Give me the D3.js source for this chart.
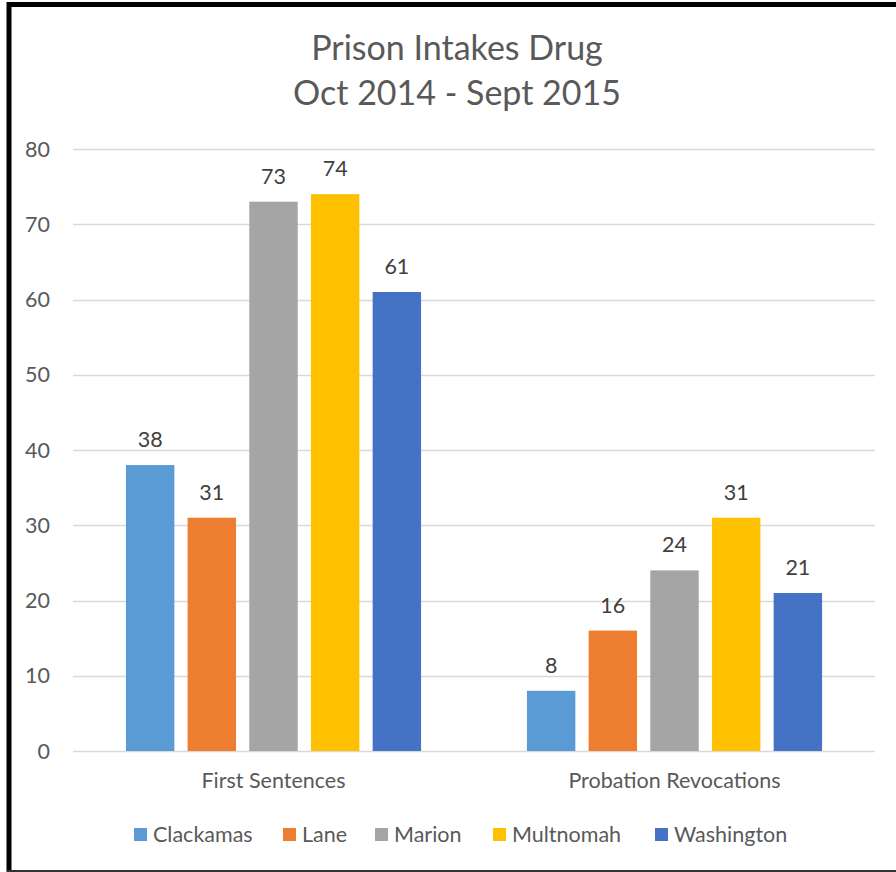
<!DOCTYPE html>
<html>
<head>
<meta charset="utf-8">
<script src="https://cdn.jsdelivr.net/npm/d3@7"></script>
<style>
  html, body { margin: 0; padding: 0; background: #fff; }
  svg { display: block; }
</style>
</head>
<body>
<div id="chart"></div>
<script>
const categories = ['First Sentences', 'Probation Revocations'];
const seriesNames = ['Clackamas', 'Lane', 'Marion', 'Multnomah', 'Washington'];
const seriesColors = ['#5b9bd5', '#ed7d31', '#a5a5a5', '#ffc000', '#4472c4'];
const clackamas = [38, 8];
const lane = [31, 16];
const marion = [73, 24];
const multnomah = [74, 31];
const washington = [61, 21];
const yTicks = [0, 10, 20, 30, 40, 50, 60, 70, 80];
const titleLines = ['Prison Intakes Drug', 'Oct 2014 - Sept 2015'];

const seriesValues = [clackamas, lane, marion, multnomah, washington];

const width = 896;
const height = 872;
const font = 'Lato, "Open Sans", sans-serif';
const labelSize = 21.5;

const plot = { left: 73, right: 875, top: 149, bottom: 751 };

const svg = d3.select('#chart').append('svg')
  .attr('width', width)
  .attr('height', height);

// Frame.
svg.append('rect').attr('x', 0).attr('y', 0).attr('width', width).attr('height', height).attr('fill', '#fff');
svg.append('line').attr('x1', 9).attr('x2', 9).attr('y1', 2).attr('y2', 872)
  .attr('stroke', '#000').attr('stroke-width', 5);
svg.append('line').attr('x1', 7).attr('x2', 896).attr('y1', 4.5).attr('y2', 4.5)
  .attr('stroke', '#000').attr('stroke-width', 5);
svg.append('line').attr('x1', 7).attr('x2', 896).attr('y1', 871).attr('y2', 871)
  .attr('stroke', '#333').attr('stroke-width', 2);

// Title.
titleLines.forEach((t, i) => {
  svg.append('text')
    .attr('x', 457).attr('y', 60 + i * 45)
    .attr('text-anchor', 'middle')
    .attr('font-family', font).attr('font-size', 34)
    .attr('fill', '#595959')
    .text(t);
});

// Scales.
const y = d3.scaleLinear().domain([0, 80]).range([plot.bottom, plot.top]);
const x0 = d3.scaleBand().domain(categories).range([plot.left, plot.right]).padding(0);
const groupPad = x0.bandwidth() * 0.132;
const x1 = d3.scaleBand().domain(seriesNames)
  .range([groupPad, x0.bandwidth() - groupPad])
  .paddingInner(0.215).paddingOuter(0);

// Gridlines.
svg.append('g')
  .selectAll('line')
  .data(yTicks)
  .join('line')
  .attr('x1', plot.left).attr('x2', plot.right)
  .attr('y1', d => Math.round(y(d)) + 0.5).attr('y2', d => Math.round(y(d)) + 0.5)
  .attr('stroke', '#d9d9d9').attr('stroke-width', 1.5);

// Y axis labels.
svg.append('g')
  .selectAll('text')
  .data(yTicks)
  .join('text')
  .attr('x', 50)
  .attr('y', d => y(d) + 7.5)
  .attr('text-anchor', 'end')
  .attr('font-family', font).attr('font-size', labelSize)
  .attr('fill', '#595959')
  .text(d => d);

// Bars.
const rows = [];
seriesNames.forEach((s, si) => {
  categories.forEach((c, ci) => {
    rows.push({ series: s, cat: c, value: seriesValues[si][ci], color: seriesColors[si] });
  });
});

svg.append('g')
  .selectAll('rect')
  .data(rows)
  .join('rect')
  .attr('x', d => x0(d.cat) + x1(d.series))
  .attr('y', d => y(d.value))
  .attr('width', x1.bandwidth())
  .attr('height', d => y(0) - y(d.value))
  .attr('fill', d => d.color);

// Data labels.
svg.append('g')
  .selectAll('text')
  .data(rows)
  .join('text')
  .attr('x', d => x0(d.cat) + x1(d.series) + x1.bandwidth() / 2)
  .attr('y', d => y(d.value) - 18)
  .attr('text-anchor', 'middle')
  .attr('font-family', font).attr('font-size', labelSize)
  .attr('fill', '#404040')
  .text(d => d.value);

// Category labels.
svg.append('g')
  .selectAll('text')
  .data(categories)
  .join('text')
  .attr('x', d => x0(d) + x0.bandwidth() / 2)
  .attr('y', 788)
  .attr('text-anchor', 'middle')
  .attr('font-family', font).attr('font-size', labelSize)
  .attr('fill', '#595959')
  .text(d => d);

// Legend.
const legendX = [134, 283, 375, 493, 655];
const legend = svg.append('g')
  .selectAll('g')
  .data(seriesNames)
  .join('g')
  .attr('transform', (d, i) => 'translate(' + legendX[i] + ',0)');
legend.append('rect')
  .attr('x', 0).attr('y', 828)
  .attr('width', 13).attr('height', 13)
  .attr('fill', (d, i) => seriesColors[i]);
legend.append('text')
  .attr('x', 19).attr('y', 842)
  .attr('font-family', font).attr('font-size', labelSize)
  .attr('fill', '#595959')
  .text(d => d);
</script>
</body>
</html>
